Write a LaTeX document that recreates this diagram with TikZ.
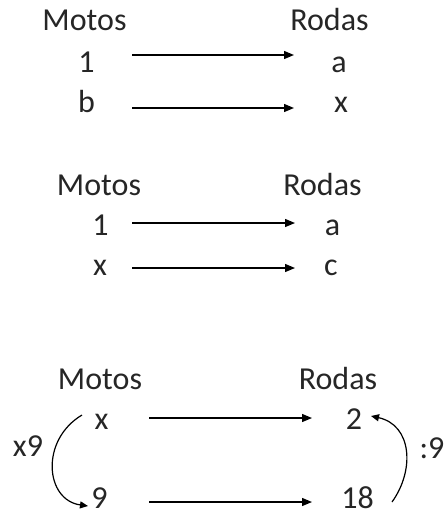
\documentclass[tikz,border=0pt]{standalone}
\usepackage{fontspec}
\setmainfont{Carlito}
\usetikzlibrary{arrows.meta}
\begin{document}
\begin{tikzpicture}[x=1pt,y=-1pt,
  lbl/.style={anchor=base,inner sep=0pt,font=\fontsize{32}{38}\selectfont,text=black!85},
  arr/.style={line width=1.3pt,-{Triangle[length=10pt,width=8pt]}},
  curvearr/.style={line width=1.2pt,-{Triangle[length=8pt,width=7pt]}}]
\useasboundingbox (0,0) rectangle (446,512);
% group 1
\node[lbl] (m1) at (84.5,30) {Motos};
\node[lbl] (r1) at (329.5,30) {Rodas};
\node[lbl] (a1) at (86.5,72) {1};
\node[lbl] (b1) at (339,72) {a};
\node[lbl] (a2) at (86.5,112) {b};
\node[lbl] (b2) at (341,112) {x};
\coordinate (s1) at (132,55); \coordinate (e1) at (294,55);
\coordinate (s2) at (132,108); \coordinate (e2) at (294,108);
\draw[arr] (s1) -- (e1);
\draw[arr] (s2) -- (e2);
% group 2
\node[lbl] (m2) at (99,195) {Motos};
\node[lbl] (r2) at (322.5,195) {Rodas};
\node[lbl] (c1) at (100.5,235) {1};
\node[lbl] (d1) at (332.5,235) {a};
\node[lbl] (c2) at (100,275) {x};
\node[lbl] (d2) at (331,275) {c};
\coordinate (s3) at (132,223); \coordinate (e3) at (295,223);
\coordinate (s4) at (132,268); \coordinate (e4) at (295,268);
\draw[arr] (s3) -- (e3);
\draw[arr] (s4) -- (e4);
% group 3
\node[lbl] (m3) at (100,389) {Motos};
\node[lbl] (r3) at (338,389) {Rodas};
\node[lbl] (g1) at (101.5,429) {x};
\node[lbl] (h1) at (354,429) {2};
\node[lbl] (g2) at (99.5,508) {9};
\node[lbl] (h2) at (357.5,508) {18};
\node[lbl] (k1) at (28,456) {x9};
\node[lbl] (k2) at (432,458) {:9};
\coordinate (s5) at (149,418); \coordinate (e5) at (312,418);
\coordinate (s6) at (149,502); \coordinate (e6) at (312,502);
\draw[arr] (s5) -- (e5);
\draw[arr] (s6) -- (e6);
\coordinate (la) at (82,415); \coordinate (lb) at (88,506);
\draw[curvearr] (la) .. controls (40,440) and (45,500) .. (lb);
\coordinate (ra) at (392,502); \coordinate (rb) at (371,416);
\draw[curvearr] (ra) .. controls (415,470) and (412,425) .. (rb);
\end{tikzpicture}
\end{document}
